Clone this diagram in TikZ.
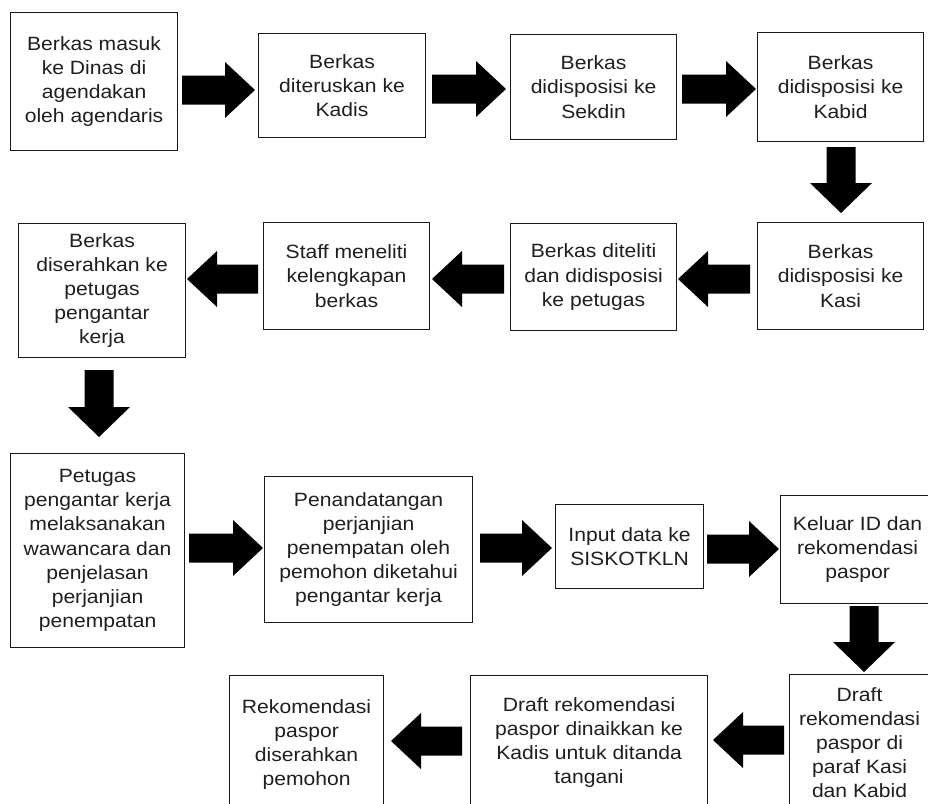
\documentclass[tikz,border=0pt]{standalone}
\usepackage{fontspec}
\setmainfont{Liberation Sans}[FakeStretch=1.1]
\newcommand\blkR[3]{\fill[black] (#1,#3-14.5) -- (#2-30,#3-14.5) -- (#2-30,#3-28) -- (#2,#3) -- (#2-30,#3+28) -- (#2-30,#3+14.5) -- (#1,#3+14.5) -- cycle;}
\newcommand\blkL[3]{\fill[black] (#1,#3-14.5) -- (#2+30,#3-14.5) -- (#2+30,#3-28) -- (#2,#3) -- (#2+30,#3+28) -- (#2+30,#3+14.5) -- (#1,#3+14.5) -- cycle;}
\newcommand\blkD[3]{\fill[black] (#1-14.5,#2) -- (#1-14.5,#3-30) -- (#1-31,#3-30) -- (#1,#3) -- (#1+31,#3-30) -- (#1+14.5,#3-30) -- (#1+14.5,#2) -- cycle;}
\begin{document}
\begin{tikzpicture}[x=1pt,y=-1pt,
  box/.style={draw=black!90, line width=1.1pt, anchor=north west, align=center, inner sep=0pt,
    text=black!88, font=\fontsize{19.2}{24.2}\selectfont}]
\useasboundingbox (0,0) rectangle (928,803);
\fill[white] (0,0) rectangle (928,803);
\clip (0,0) rectangle (928,803);
% row 1
\node[box, minimum width=167, minimum height=138] (b1) at (10,12) {Berkas masuk\\ke Dinas di\\agendakan\\oleh agendaris};
\node[box, minimum width=167, minimum height=104] (b2) at (258,33) {Berkas\\diteruskan ke\\Kadis};
\node[box, minimum width=166, minimum height=105] (b3) at (510,34) {Berkas\\didisposisi ke\\Sekdin};
\node[box, minimum width=166, minimum height=109] (b4) at (757,32) {Berkas\\didisposisi ke\\Kabid};
% row 2
\node[box, minimum width=166, minimum height=107] (b5) at (757,222) {Berkas\\didisposisi ke\\Kasi};
\node[box, minimum width=166, minimum height=107] (b6) at (510,223) {Berkas diteliti\\dan didisposisi\\ke petugas};
\node[box, minimum width=166, minimum height=107] (b7) at (263,222) {Staff meneliti\\kelengkapan\\berkas};
\node[box, minimum width=167, minimum height=134] (b8) at (18,223) {Berkas\\diserahkan ke\\petugas\\pengantar\\kerja};
% row 3
\node[box, minimum width=174, minimum height=194] (b9) at (10,453) {Petugas\\pengantar kerja\\melaksanakan\\wawancara dan\\penjelasan\\perjanjian\\penempatan};
\node[box, minimum width=208, minimum height=146] (b10) at (264,476) {Penandatangan\\perjanjian\\penempatan oleh\\pemohon diketahui\\pengantar kerja};
\node[box, minimum width=148, minimum height=84] (b11) at (555,504) {Input data ke\\SISKOTKLN};
\node[box, minimum width=154, minimum height=108] (b12) at (780,495) {Keluar ID dan\\rekomendasi\\paspor};
% row 4
\node[box, minimum width=140, minimum height=136] (b13) at (789,674) {Draft\\rekomendasi\\paspor di\\paraf Kasi\\dan Kabid};
\node[box, minimum width=237, minimum height=134] (b14) at (470,675) {Draft rekomendasi\\paspor dinaikkan ke\\Kadis untuk ditanda\\tangani};
\node[box, minimum width=154, minimum height=138] (b15) at (229,675) {Rekomendasi\\paspor\\diserahkan\\pemohon};
% block arrows
\blkR{182}{255}{90}
\blkR{432}{506}{89}
\blkR{682}{756}{89}
\blkD{841}{147}{213}
\blkL{750}{678}{279}
\blkL{504}{432}{279}
\blkL{258}{187}{279}
\blkD{99}{370}{437}
\blkR{189}{263}{548}
\blkR{480}{552}{548}
\blkR{707}{779}{549}
\blkD{864}{606}{672}
\blkL{784}{713}{740}
\blkL{462}{391}{741}
\end{tikzpicture}
\end{document}
